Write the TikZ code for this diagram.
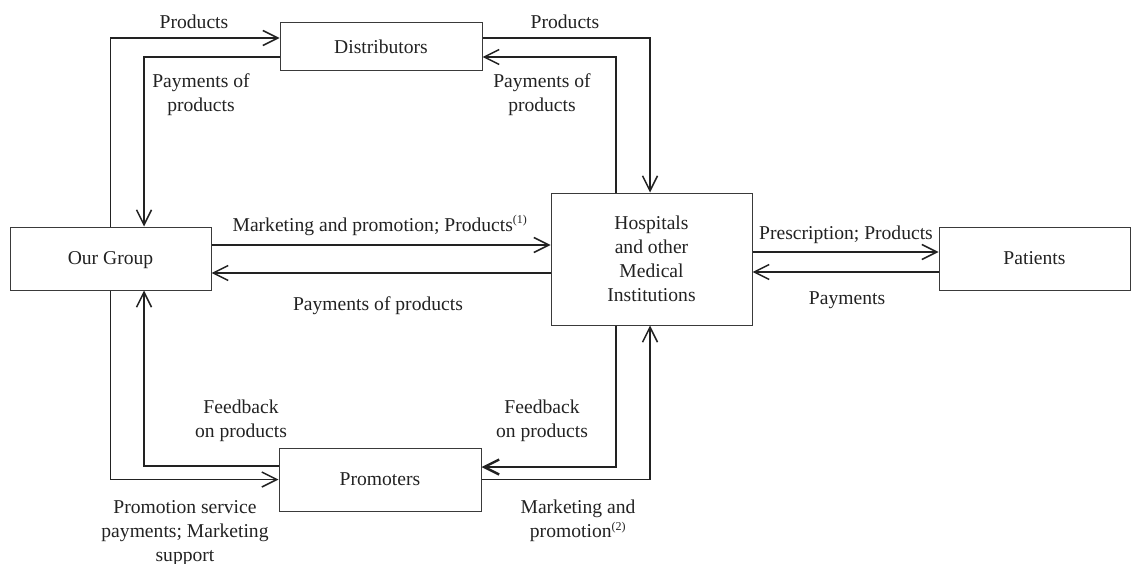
\documentclass[tikz,border=0pt]{standalone}
\usepackage{fontspec}
\setmainfont{Liberation Serif}
\usetikzlibrary{arrows.meta}
\definecolor{ink}{HTML}{222222}
\definecolor{edge}{HTML}{3A3A3A}
\tikzset{
  box/.style={draw=edge, line width=1pt, text=ink, inner sep=0pt, text depth=0pt, align=center},
  conn/.style={draw=ink, line width=1.5pt, -{Straight Barb[length=15pt,width=15pt]}},
  heavy/.style={line width=2.4pt},
  lbl/.style={text=ink, align=center, inner sep=0pt}
}
\newcommand{\supnote}[1]{\textsuperscript{\fontsize{12}{12}\selectfont#1}}
\begin{document}
\begin{tikzpicture}[x=1pt,y=-1pt,font=\fontsize{19.6}{24}\selectfont]
\useasboundingbox (0,0) rectangle (1131,564);

% boxes
\node[box, minimum width=202pt, minimum height=48pt]  (dist)  at (381,47)      {Distributors};
\node[box, minimum width=201pt, minimum height=63pt]  (group) at (110.5,258.5) {Our Group};
\node[box, minimum width=201pt, minimum height=132pt] (hosp)  at (651.5,259)   {Hospitals\\and other\\Medical\\Institutions};
\node[box, minimum width=191pt, minimum height=63pt]  (pat)   at (1034.5,258.5) {Patients};
\node[box, minimum width=202pt, minimum height=63pt]  (prom)  at (380,479.5)   {Promoters};

% group <-> distributors
\draw[conn] (group.north) |- ([yshift=9pt]dist.west);
\draw[conn] ([yshift=-10pt]dist.west) -| ([xshift=33.5pt]group.north);

% distributors <-> hospitals
\draw[conn] ([yshift=9pt]dist.east) -| ([xshift=-1.5pt]hosp.north);
\draw[conn] ([xshift=-35.5pt]hosp.north) |- ([yshift=-10pt]dist.east);

% group <-> hospitals
\draw[conn] ([yshift=13.5pt]group.east) -- ([yshift=14pt]hosp.west);
\draw[conn] ([yshift=-14pt]hosp.west) -- ([yshift=-14.5pt]group.east);

% hospitals <-> patients
\draw[conn] ([yshift=7pt]hosp.east) -- ([yshift=6.5pt]pat.west);
\draw[conn] ([yshift=-13.5pt]pat.west) -- ([yshift=-13pt]hosp.east);

% group <-> promoters
\draw[conn] (group.south) |- (prom.west);
\draw[conn] ([yshift=13.5pt]prom.west) -| ([xshift=33.5pt]group.south);

% promoters <-> hospitals
\draw[conn, heavy] ([xshift=-35.5pt]hosp.south) |- ([yshift=12.5pt]prom.east);
\draw[conn] (prom.east) -| ([xshift=-1.5pt]hosp.south);

% labels
\node[lbl] (l1) at (194,22) {Products};
\node[lbl] (l2) at (201,95) {Payments of\\products};
\node[lbl] (l3) at (565,22) {Products};
\node[lbl] (l4) at (542,95) {Payments of\\products};
\node[lbl, anchor=base] (l5) at (380,231) {Marketing and promotion; Products\supnote{(1)}};
\node[lbl, anchor=base] (l6) at (378,310) {Payments of products};
\node[lbl, anchor=base] (l7) at (846,239) {Prescription; Products};
\node[lbl, anchor=base] (l8) at (847,304) {Payments};
\node[lbl] (l9)  at (241,421) {Feedback\\on products};
\node[lbl] (l10) at (542,421) {Feedback\\on products};
\node[lbl] (l11) at (185,533) {Promotion service\\payments; Marketing\\support};
\node[lbl] (l12) at (578,521) {Marketing and\\promotion\supnote{(2)}};
\end{tikzpicture}
\end{document}
